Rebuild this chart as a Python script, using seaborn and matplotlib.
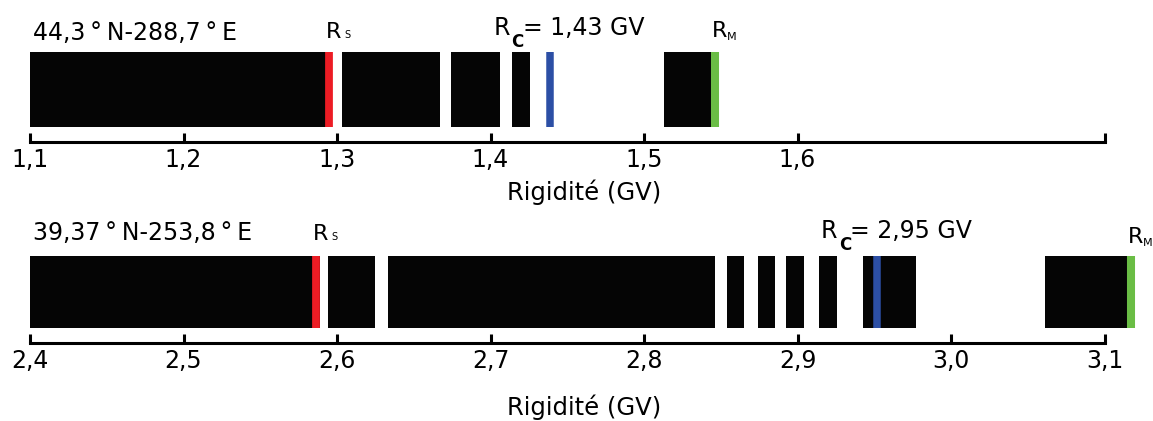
import matplotlib
matplotlib.use('Agg')
import matplotlib.pyplot as plt
import seaborn as sns

# --- panel 1: 44,3°N-288,7°E ---
site_top = '44,3\u2009°\u2009N-288,7\u2009°\u2009E'
bands_top_start = [1.100, 1.303, 1.374, 1.414, 1.513]
bands_top_end = [1.297, 1.367, 1.406, 1.426, 1.549]
rs_top, rc_top, rm_top = 1.2948, 1.4385, 1.5463
rc_top_text = '= 1,43 GV'
ticks_top = [1.1, 1.2, 1.3, 1.4, 1.5, 1.6, 1.8]
ticklabels_top = ['1,1', '1,2', '1,3', '1,4', '1,5', '1,6', '']

# --- panel 2: 39,37°N-253,8°E ---
site_bot = '39,37\u2009°\u2009N-253,8\u2009°\u2009E'
bands_bot_start = [2.400, 2.594, 2.6334, 2.854, 2.874, 2.8925, 2.9138, 2.9429, 3.0615]
bands_bot_end = [2.5889, 2.625, 2.846, 2.865, 2.8856, 2.9044, 2.926, 2.9769, 3.1199]
rs_bot, rc_bot, rm_bot = 2.5864, 2.9518, 3.1175
rc_bot_text = '= 2,95 GV'
ticks_bot = [2.4, 2.5, 2.6, 2.7, 2.8, 2.9, 3.0, 3.1]
ticklabels_bot = ['2,4', '2,5', '2,6', '2,7', '2,8', '2,9', '3,0', '3,1']

RED = '#ec1c24'
BLUE = '#2c4fa5'
GREEN = '#6abd45'

sns.set_theme(style='white')
plt.rcParams['font.family'] = ['DejaVu Sans']


def r_label(ax, x, y, sub, size, sub_size, sub_dx, sub_dy, bold=False):
    # "R" followed by a small subscript, placed with pixel offsets
    tr = ax.get_xaxis_transform()
    ax.text(x, y, 'R', transform=tr, fontsize=size, va='baseline', ha='left', color='black')
    ax.annotate(sub, xy=(x, y), xycoords=tr, xytext=(sub_dx, sub_dy),
                textcoords='offset pixels', fontsize=sub_size, va='baseline', ha='left',
                color='black', fontweight='bold' if bold else 'normal')


def draw_panel(ax, starts, ends, rs, rc, rm, rc_text, site, ticks, ticklabels,
               title_y, rs_y, rc_y, rm_y, xlabel_y):
    widths = [e - s for s, e in zip(starts, ends)]
    ax.barh([0.5] * len(starts), widths, left=starts, height=1.0,
            color='#050505', edgecolor='none')

    sns.rugplot(x=[rs], height=1, ax=ax, color=RED, linewidth=5.6, expand_margins=False)
    sns.rugplot(x=[rc], height=1, ax=ax, color=BLUE, linewidth=5.4, expand_margins=False)
    sns.rugplot(x=[rm], height=1, ax=ax, color=GREEN, linewidth=5.8, expand_margins=False)

    x0 = ticks[0]
    ax.set_xlim(x0 - 30 / 1535, x0 + 1123 / 1535)
    ax.set_ylim(0, 1)
    ax.set_yticks([])

    sns.despine(ax=ax, left=True, offset=11)
    ax.spines['bottom'].set_bounds(ticks[0], ticks[-1])
    ax.spines['bottom'].set_linewidth(2.2)
    ax.spines['bottom'].set_color('black')

    ax.set_xticks(ticks)
    ax.set_xticklabels(ticklabels)
    ax.tick_params(axis='x', bottom=True, direction='in', length=6.5, width=2.2,
                   color='black', labelcolor='black', labelsize=17, pad=4)

    tr = ax.get_xaxis_transform()
    ax.text(x0 + 0.002, title_y, site, transform=tr, fontsize=17,
            va='baseline', ha='left', color='black')

    r_label(ax, rs - 0.002, rs_y, 'S', 16, 7, 18, 0)
    r_label(ax, rm - 0.002, rm_y, 'M', 16, 8, 15, -3)
    xr = rc - 0.0365
    r_label(ax, xr, rc_y, 'C', 17, 12, 18, -12, bold=True)
    ax.annotate(rc_text, xy=(xr, rc_y), xycoords=tr, xytext=(29, 0),
                textcoords='offset pixels', fontsize=17, va='baseline', ha='left',
                color='black')

    ax.set_xlabel('Rigidité (GV)', fontsize=17.5, color='black')
    ax.xaxis.set_label_coords(0.507, xlabel_y)


fig = plt.figure(figsize=(11.53, 4.21), dpi=100)
ax1 = fig.add_axes([0.0, 1 - 127 / 421, 1.0, 75 / 421])
ax2 = fig.add_axes([0.0, 1 - 327.7 / 421, 1.0, 72 / 421])

draw_panel(ax1, bands_top_start, bands_top_end, rs_top, rc_top, rm_top, rc_top_text,
           site_top, ticks_top, ticklabels_top,
           title_y=1.16, rs_y=1.187, rc_y=1.227, rm_y=1.2, xlabel_y=-0.70)
draw_panel(ax2, bands_bot_start, bands_bot_end, rs_bot, rc_bot, rm_bot, rc_bot_text,
           site_bot, ticks_bot, ticklabels_bot,
           title_y=1.218, rs_y=1.218, rc_y=1.246, rm_y=1.176, xlabel_y=-0.93)

fig.savefig('out.png', dpi=100, facecolor='white')
